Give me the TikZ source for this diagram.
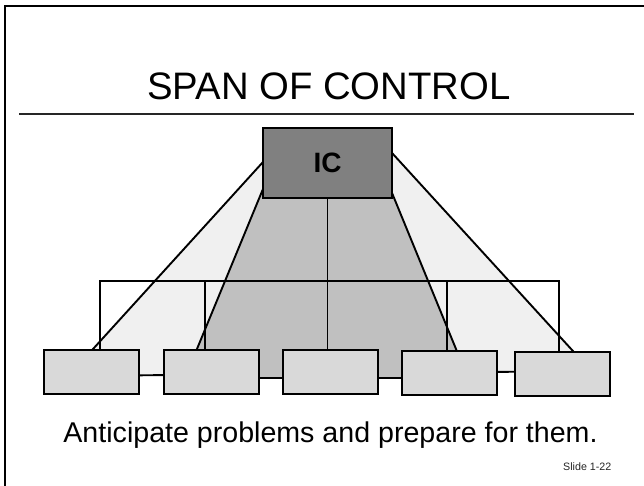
\documentclass[tikz,border=0pt]{standalone}
\usepackage{fontspec}
\setmainfont{Liberation Sans}
\begin{document}
\begin{tikzpicture}[x=1pt,y=-1pt,
  line/.style={line width=1.9pt,black},
  unitbox/.style={draw=black,line width=1.9pt,fill=boxgray,minimum width=95pt,minimum height=44pt,inner sep=0pt,anchor=north west},
  icbox/.style={draw=black,line width=1.9pt,fill=icgray,minimum width=129pt,minimum height=70pt,inner sep=0pt,font=\fontsize{28}{30}\selectfont\bfseries}]
\definecolor{icgray}{HTML}{808080}
\definecolor{boxgray}{HTML}{D9D9D9}
\definecolor{widegray}{HTML}{F0F0F0}
\definecolor{narrowgray}{HTML}{C0C0C0}
\useasboundingbox (0,0) rectangle (644,485);
\clip (0,0) rectangle (644,485);
\fill[white] (0,0) rectangle (644,485);
% slide frame (runs off the page on the right and bottom)
\draw[line width=2pt] (5,6) rectangle (700,540);
% title and rule
\node[anchor=base,inner sep=0pt,font=\fontsize{38.3}{40}\selectfont] (title) at (329,99) {SPAN OF CONTROL};
\coordinate (ruleL) at (19,114);
\coordinate (ruleR) at (634,114);
\draw[line width=1.6pt,black!85] (ruleL) -- (ruleR);
% wide span (outer) and narrow span (inner) fans
\draw[line,fill=widegray] (273.9,150) -- (389.3,150) -- (591.2,371) -- (68.5,376) -- cycle;
\draw[line,fill=narrowgray] (266.7,180) -- (386.7,180) -- (467.9,378) -- (185,378) -- cycle;
% subordinate units
\node[unitbox] (u1) at (43,349) {};
\node[unitbox] (u2) at (163,349) {};
\node[unitbox] (u3) at (282,349) {};
\node[unitbox] (u4) at (401,350) {};
\node[unitbox] (u5) at (514,351) {};
% chain of command
\coordinate (busL) at (100,281);
\coordinate (busR) at (559,281);
\coordinate (bus2) at (205,281);
\coordinate (bus4) at (447,281);
\node[icbox] (ic) at (327.5,163) {IC};
\draw[line] (busL |- u1.north) -- (busL) -- (busR) -- (busR |- u5.north);
\draw[line] (bus2) -- (bus2 |- u2.north);
\draw[line] (bus4) -- (bus4 |- u4.north);
\draw[line] (ic.south) -- (ic.south |- u3.north);
% footer text
\node[anchor=base,inner sep=0pt,font=\fontsize{28.6}{30}\selectfont] (note) at (330.5,442.7) {Anticipate problems and prepare for them.};
\node[anchor=base west,inner sep=0pt,font=\fontsize{10.7}{12}\selectfont,text=black!85] (slide) at (563,470) {Slide 1-22};
\end{tikzpicture}
\end{document}
